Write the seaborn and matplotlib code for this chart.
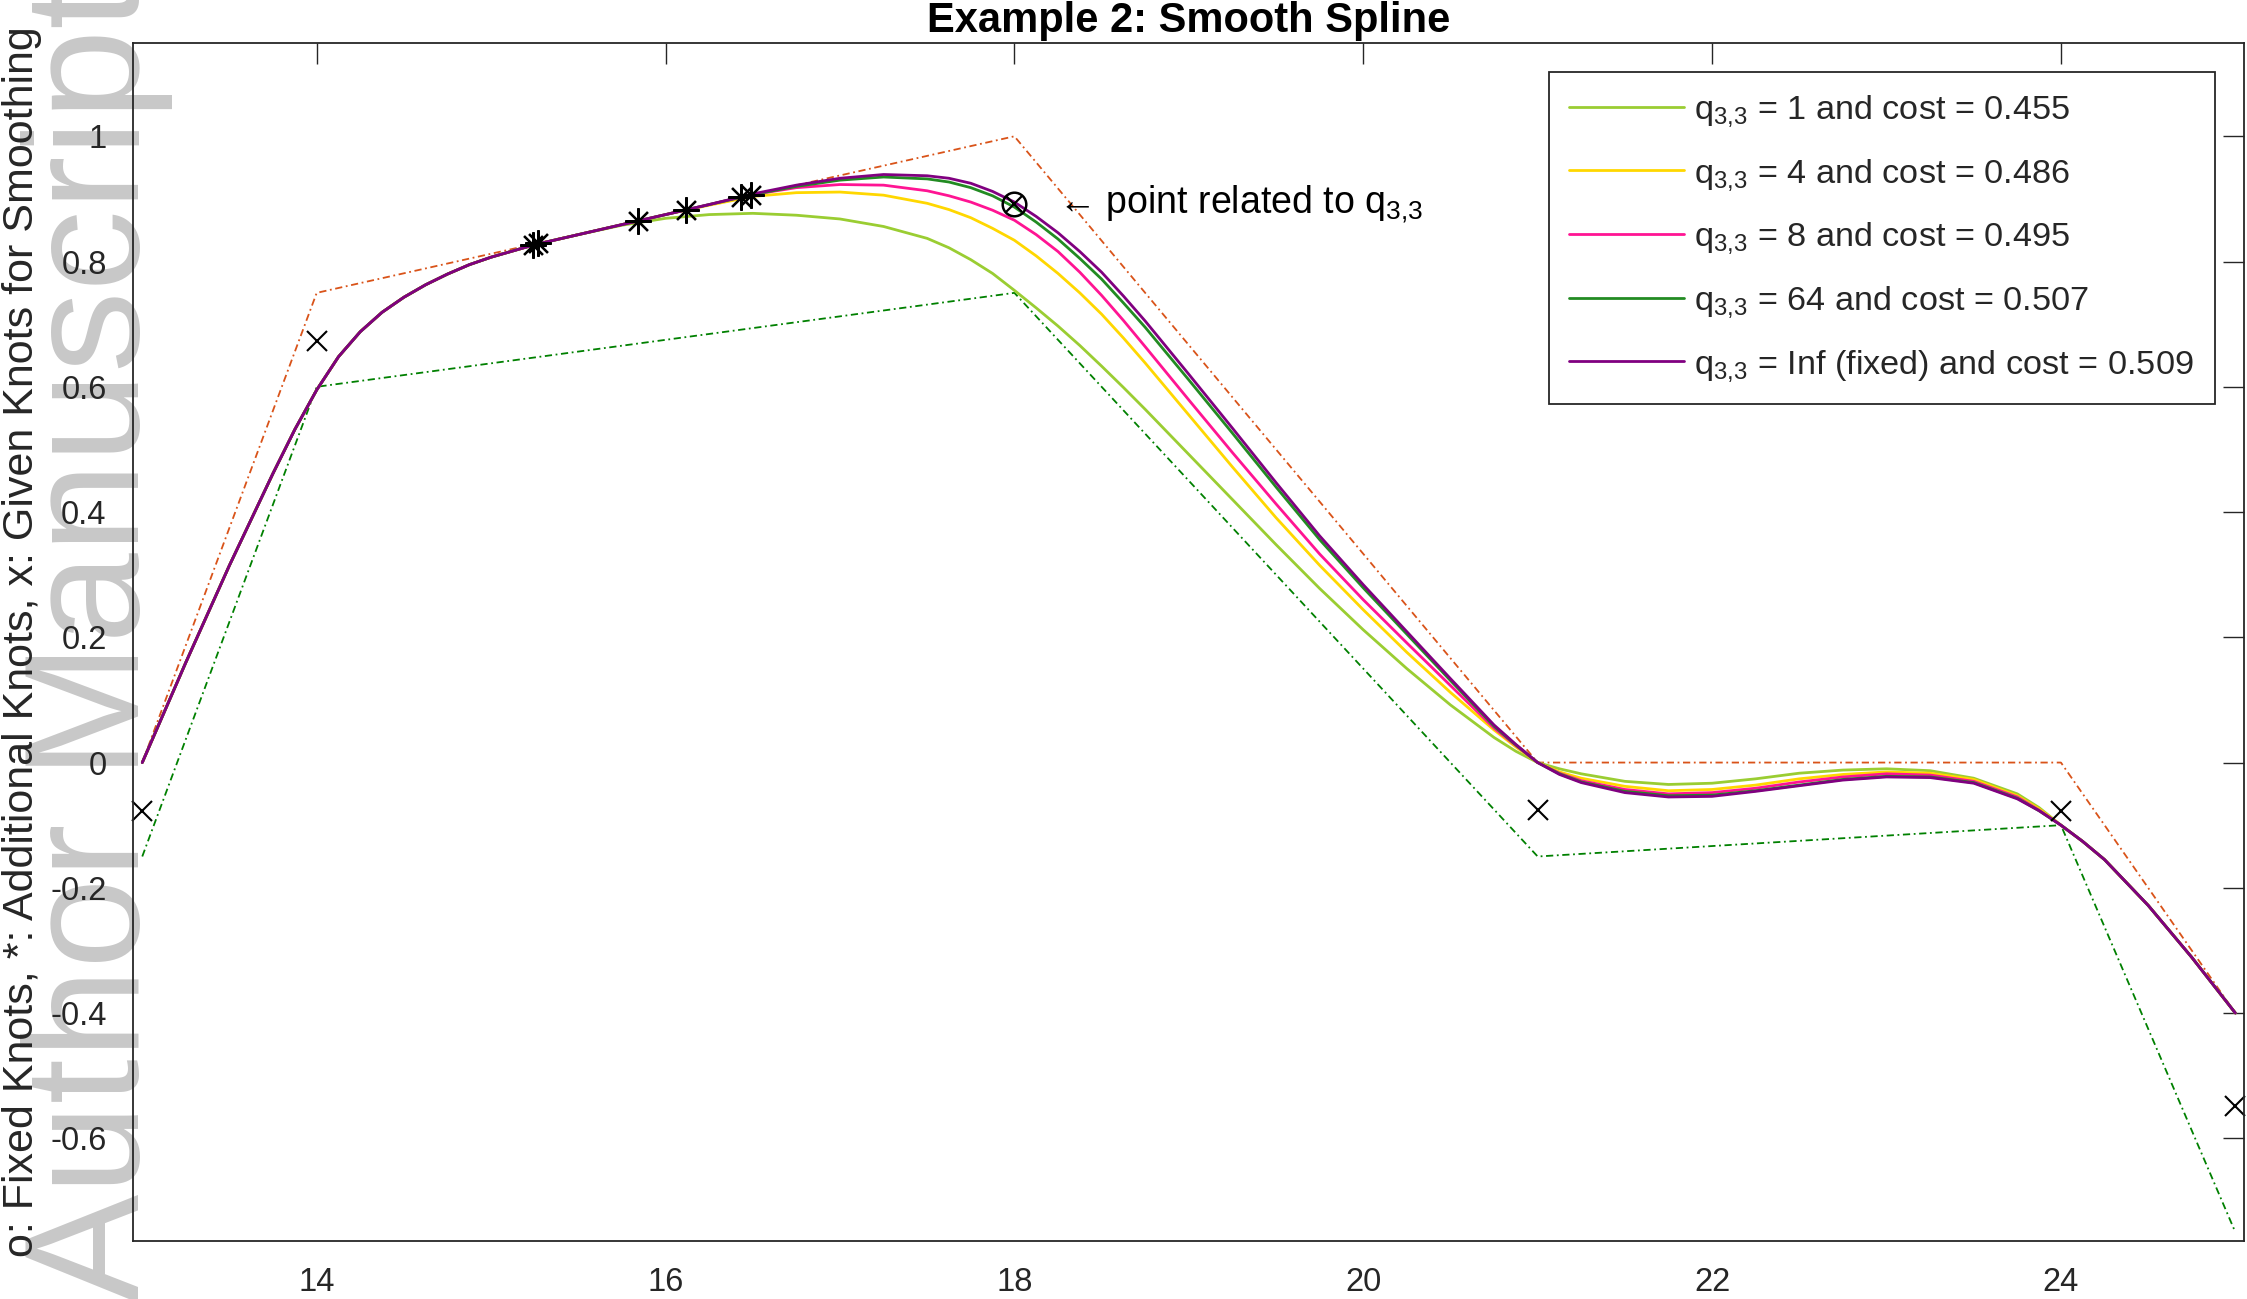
#### Example 2: Smooth Spline ####

import numpy as np
import pandas as pd
import matplotlib
matplotlib.use('Agg')
import matplotlib.pyplot as plt
import seaborn as sns

sns.set_theme(style = 'white')
plt.rcParams['font.family'] = ['Liberation Sans', 'DejaVu Sans']
plt.rcParams['mathtext.default'] = 'regular'
plt.rcParams['axes.unicode_minus'] = False

# Data
## shared start of all splines (13 -> 15.5)
x_start = [13.0, 13.25, 13.5, 13.75, 13.875, 14.0, 14.125, 14.25, 14.375, 14.5,
           14.625, 14.75, 14.875, 15.0, 15.25, 15.5]
y_start = [0.000, 0.160, 0.315, 0.462, 0.532, 0.595, 0.648, 0.688, 0.719, 0.743,
           0.763, 0.780, 0.795, 0.807, 0.827, 0.843]

## middle part, where the splines differ (15.75 -> 23.875)
x_mid = [15.75, 16.0, 16.25, 16.5, 16.75, 17.0, 17.25, 17.5, 17.625, 17.75,
         17.875, 18.0, 18.125, 18.25, 18.375, 18.5, 18.625, 18.75, 19.0, 19.25,
         19.5, 19.75, 20.0, 20.25, 20.5, 20.75, 20.875, 21.0, 21.125, 21.25,
         21.5, 21.75, 22.0, 22.25, 22.5, 22.75, 23.0, 23.25, 23.5, 23.75,
         23.875]
q1_mid = [0.858, 0.869, 0.875, 0.877, 0.874, 0.868, 0.856, 0.837, 0.822, 0.803,
          0.781, 0.754, 0.726, 0.697, 0.666, 0.633, 0.599, 0.564, 0.492, 0.420,
          0.348, 0.278, 0.212, 0.150, 0.092, 0.040, 0.018, 0.000, -0.010, -0.018,
          -0.030, -0.035, -0.033, -0.026, -0.017, -0.012, -0.010, -0.013, -0.025, -0.050,
          -0.072]
q4_mid = [0.859, 0.875, 0.890, 0.904, 0.910, 0.911, 0.906, 0.893, 0.883, 0.870,
          0.853, 0.834, 0.809, 0.781, 0.750, 0.716, 0.678, 0.638, 0.555, 0.472,
          0.391, 0.315, 0.244, 0.176, 0.112, 0.052, 0.025, 0.000, -0.015, -0.025,
          -0.038, -0.045, -0.043, -0.036, -0.026, -0.019, -0.015, -0.017, -0.027, -0.053,
          -0.074]
q8_mid = [0.859, 0.875, 0.891, 0.907, 0.918, 0.923, 0.922, 0.913, 0.905, 0.895,
          0.882, 0.866, 0.843, 0.816, 0.783, 0.746, 0.706, 0.664, 0.579, 0.495,
          0.413, 0.333, 0.260, 0.191, 0.123, 0.055, 0.027, 0.000, -0.017, -0.029,
          -0.043, -0.050, -0.048, -0.041, -0.031, -0.023, -0.018, -0.020, -0.030, -0.055,
          -0.076]
q64_mid = [0.859, 0.875, 0.891, 0.907, 0.920, 0.930, 0.935, 0.932, 0.927, 0.918,
           0.905, 0.887, 0.863, 0.836, 0.805, 0.772, 0.734, 0.695, 0.611, 0.526,
           0.440, 0.356, 0.279, 0.205, 0.131, 0.058, 0.028, 0.000, -0.018, -0.031,
           -0.046, -0.053, -0.052, -0.045, -0.036, -0.027, -0.022, -0.023, -0.032, -0.057,
           -0.077]
qinf_mid = [0.859, 0.875, 0.891, 0.908, 0.922, 0.933, 0.939, 0.937, 0.933, 0.925,
            0.912, 0.895, 0.872, 0.846, 0.816, 0.783, 0.745, 0.705, 0.620, 0.534,
            0.447, 0.362, 0.284, 0.209, 0.134, 0.060, 0.029, 0.000, -0.019, -0.032,
            -0.048, -0.055, -0.054, -0.046, -0.037, -0.028, -0.023, -0.024, -0.033, -0.058,
            -0.077]

## shared end of all splines (24 -> 25)
x_end = [24.0, 24.125, 24.25, 24.5, 24.75, 25.0]
y_end = [-0.100, -0.126, -0.155, -0.228, -0.311, -0.400]

series_names = ['q$_{3{,}3}$ = 1 and cost = 0.455',
                'q$_{3{,}3}$ = 4 and cost = 0.486',
                'q$_{3{,}3}$ = 8 and cost = 0.495',
                'q$_{3{,}3}$ = 64 and cost = 0.507',
                'q$_{3{,}3}$ = Inf (fixed) and cost = 0.509']
series_colors = ['#9acd32', '#ffd700', '#ff1493', '#228b22', '#800080']

## upper and lower bound polylines
bound_x = [13, 14, 18, 21, 24, 25]
upper_y = [0, 0.75, 1.0, 0, 0, -0.4]
lower_y = [-0.15, 0.6, 0.75, -0.15, -0.1, -0.75]

## knots
given_x = [13, 14, 21, 24, 25]
given_y = [-0.078, 0.673, -0.075, -0.077, -0.549]
extra_x = [15.24, 15.27, 15.84, 16.12, 16.43, 16.49]
extra_y = [0.827, 0.829, 0.865, 0.883, 0.903, 0.907]
fixed_x = [18]
fixed_y = [0.892]

x_ticks = [14, 16, 18, 20, 22, 24]
y_ticks = [-0.6, -0.4, -0.2, 0, 0.2, 0.4, 0.6, 0.8, 1]
y_tick_labels = ['-0.6', '-0.4', '-0.2', '0', '0.2', '0.4', '0.6', '0.8', '1']

# Long table for seaborn
mids = [q1_mid, q4_mid, q8_mid, q64_mid, qinf_mid]
frames = []
for name, mid in zip(series_names, mids):
    frames.append(pd.DataFrame({'x': x_start + x_mid + x_end,
                                'y': y_start + mid + y_end, 'series': name}))
splines = pd.concat(frames, ignore_index = True)

# Figure
dark = '#262626'
fig = plt.figure(figsize = (22.47, 12.99), dpi = 100)
ax = fig.add_axes([0.0592, 0.04465, 0.9395, 0.92225])
ax.patch.set_alpha(0)

ax.plot(bound_x, upper_y, color = '#d95319', lw = 1.3, ls = (0, (4, 2, 1, 2)))
ax.plot(bound_x, lower_y, color = '#008000', lw = 1.3, ls = (0, (4, 2, 1, 2)))

sns.lineplot(data = splines, x = 'x', y = 'y', hue = 'series', hue_order = series_names,
             palette = series_colors, estimator = None, sort = False, lw = 2.0, ax = ax)

ax.plot(given_x, given_y, ls = 'none', marker = 'x', ms = 14, mew = 1.5, color = 'black', clip_on = False)
ax.plot(extra_x, extra_y, ls = 'none', marker = (8, 2, 0), ms = 19, mew = 1.6, color = 'black')
ax.plot(fixed_x, fixed_y, ls = 'none', marker = 'o', ms = 17, mew = 1.8, mfc = 'none', color = 'black')
ax.plot(fixed_x, fixed_y, ls = 'none', marker = 'x', ms = 11, mew = 1.6, color = 'black')

ax.text(18.25, 0.892, '\u2190 point related to q$_{3{,}3}$', fontsize = 27,
        va = 'center', color = 'black')

ax.set_xlim(12.947, 25.05)
ax.set_ylim(-0.764, 1.149)
ax.set_xticks(x_ticks)
ax.set_xticklabels([str(t) for t in x_ticks])
ax.set_yticks(y_ticks)
ax.set_yticklabels(y_tick_labels)
ax.tick_params(direction = 'in', length = 15, width = 1.0, top = True, right = True,
               colors = dark, labelsize = 23.5)
ax.tick_params(axis = 'x', pad = 19)
ax.tick_params(axis = 'y', pad = 19)
for s in ax.spines.values():
    s.set_color(dark)
    s.set_linewidth(1.3)

ax.set_xlabel('')
ax.set_ylabel('o: Fixed Knots, *: Additional Knots, x: Given Knots for Smoothing',
              fontsize = 31, color = dark, labelpad = 6)
ax.set_title('Example 2: Smooth Spline', fontsize = 30, fontweight = 'bold', color = 'black', pad = 8)

handles, labels = ax.get_legend_handles_labels()
leg = ax.legend(handles, labels, loc = 'upper right', fontsize = 24.7,
                frameon = True, fancybox = False, edgecolor = dark, framealpha = 1,
                handlelength = 3.35, handletextpad = 0.3, labelspacing = 0.81,
                borderaxespad = 0.86, borderpad = 0.6)
leg.get_frame().set_linewidth(1.3)

# watermark
fig.text(0.062, -0.002, 'Author Manuscript', rotation = 90, rotation_mode = 'anchor',
         ha = 'left', va = 'baseline', fontsize = 117, color = '#c8c8c8', zorder = -1)

fig.savefig('out.png', dpi = 100)
